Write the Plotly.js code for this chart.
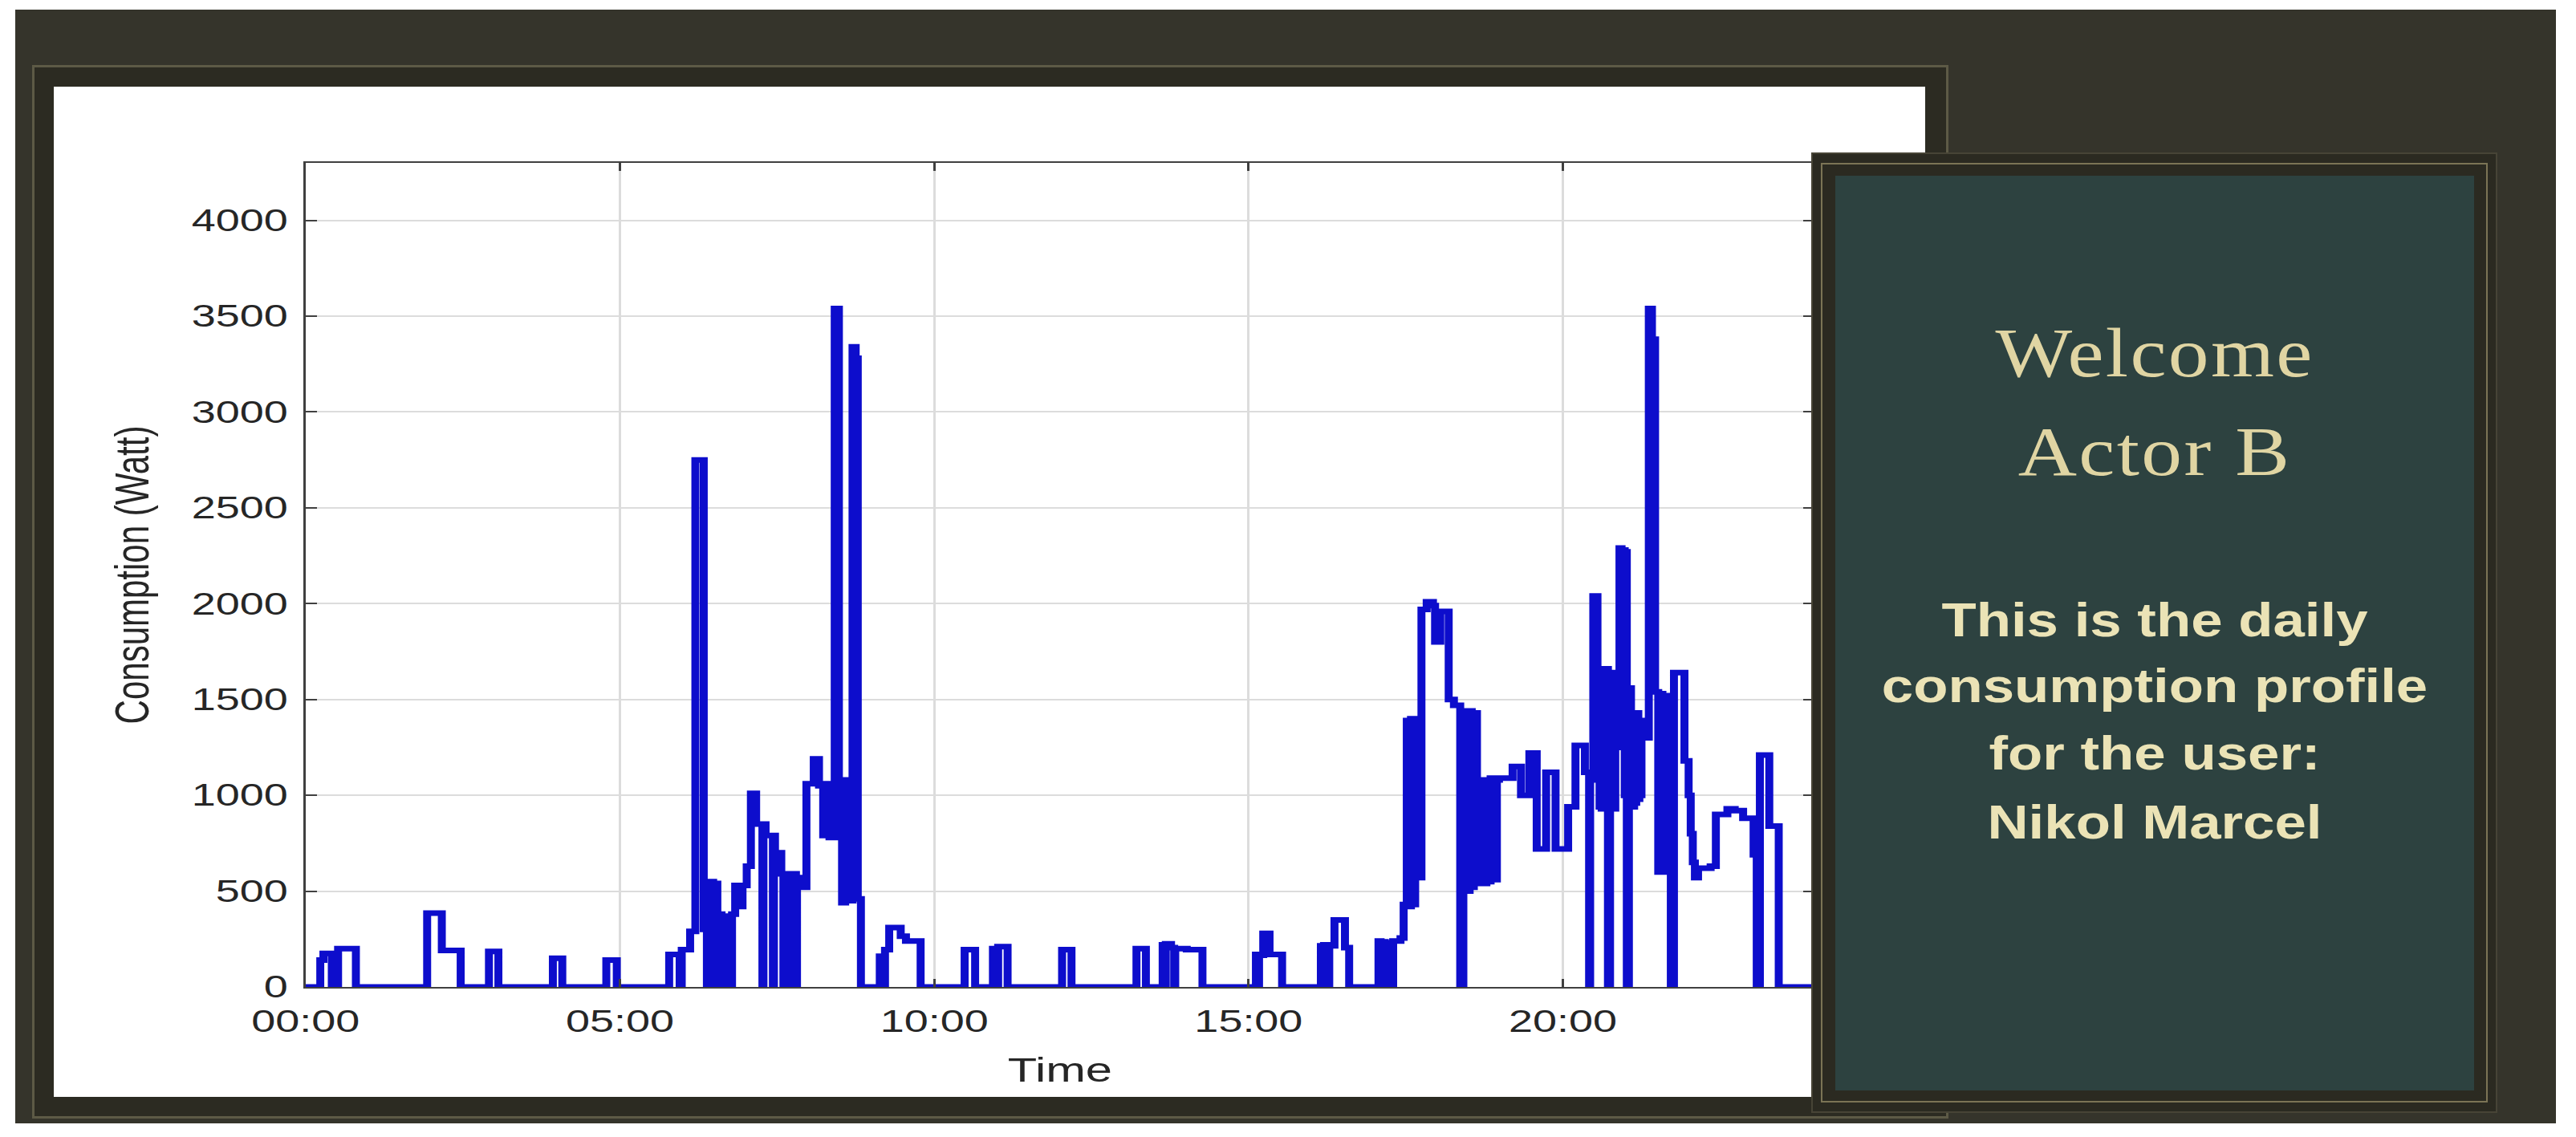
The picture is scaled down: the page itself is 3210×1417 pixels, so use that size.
<!DOCTYPE html>
<html><head><meta charset="utf-8">
<script src="https://cdn.plot.ly/plotly-3.0.1.min.js"></script>
<style>
html,body{margin:0;padding:0;background:#fff;}
body{width:3210px;height:1417px;position:relative;overflow:hidden;}
.abs{position:absolute;box-sizing:border-box;}
#outer{left:19px;top:12px;width:3166px;height:1388px;background:#35342b;}
#frame{left:40px;top:81px;width:2388px;height:1313px;background:#2c2b22;border:3px solid #5d5a46;}
#chartwrap{left:67px;top:108px;width:2332px;height:1259px;background:#fff;overflow:hidden;}
#chart{position:absolute;left:0;top:0;width:1642px;height:1259px;transform:scaleX(1.42);transform-origin:0 0;}
#panel{left:2257px;top:190px;width:855px;height:1197px;background:#2b2a21;border:2px solid #474436;}
#panelLine{left:2269px;top:203px;width:831px;height:1171px;border:2px solid #7b7455;}
#teal{left:2287px;top:219px;width:796px;height:1140px;background:#2d4240;}
.txt{position:absolute;left:2287px;width:796px;text-align:center;white-space:nowrap;transform:scaleX(1.18);transform-origin:50% 0;}
.serif{font-family:'Liberation Serif','Times New Roman',serif;font-size:86px;line-height:86px;color:#e0d5a3;letter-spacing:2px;}
.bold{font-family:'Liberation Sans',Arial,sans-serif;font-weight:bold;font-size:60px;line-height:60px;color:#ebe3b6;}
</style></head>
<body>
<div id="outer" class="abs"></div>
<div id="frame" class="abs"></div>
<div id="chartwrap" class="abs"><div id="chart"></div></div>
<div id="panel" class="abs"></div>
<div id="panelLine" class="abs"></div>
<div id="teal" class="abs"></div>
<div class="txt serif" style="top:397px;">Welcome</div>
<div class="txt serif" style="top:520px;">Actor B</div>
<div class="txt bold" style="top:743px;">This is the daily</div>
<div class="txt bold" style="top:825px;">consumption profile</div>
<div class="txt bold" style="top:909px;">for the user:</div>
<div class="txt bold" style="top:995px;">Nikol Marcel</div>
<script>
// Step-change times (HH:MM) and the consumption level (W) that starts at each time
const times = [
"00:00","00:14","00:17","00:25","00:31","00:48","01:56","02:10","02:28","02:55","03:04","03:56","04:05","04:47","04:57",
"05:47","05:57","05:59","06:07","06:12","06:20","06:23","06:25","06:29","06:30","06:33","06:34","06:35","06:37","06:38",
"06:40","06:41","06:43","06:44","06:46","06:47","06:50","06:54","06:57","07:01","07:05","07:10","07:16","07:17","07:19",
"07:26","07:27","07:28","07:34","07:36","07:37","07:39","07:40","07:42","07:43","07:45","07:46","07:48","07:49","07:52",
"07:58","08:05","08:10","08:14","08:17","08:20","08:25","08:29","08:32","08:35","08:37","08:42","08:45","08:47","08:50",
"09:08","09:12","09:13","09:17","09:28","09:33","09:47","10:29","10:39","10:56","10:59","11:01","11:10","12:02","12:11",
"13:13","13:22","13:38","13:40","13:41","13:46","13:49","13:50","14:01","14:16","15:07","15:09","15:10","15:14","15:20",
"15:32","16:09","16:11","16:12","16:16","16:17","16:22","16:32","16:36","17:04","17:06","17:07","17:10","17:12","17:13",
"17:17","17:18","17:25","17:28","17:31","17:34","17:35","17:38","17:39","17:42","17:45","17:50","17:56","17:58","18:03",
"18:11","18:16","18:22","18:25","18:29","18:31","18:33","18:35","18:38","18:42","18:43","18:46","18:47","18:50","18:51",
"18:56","18:57","18:59","19:12","19:20","19:28","19:35","19:44","19:53","20:05","20:12","20:21","20:25","20:26","20:29",
"20:33","20:34","20:35","20:36","20:37","20:38","20:39","20:43","20:45","20:47","20:48","20:49","20:50","20:51","20:54",
"20:56","20:57","20:59","21:00","21:01","21:03","21:05","21:06","21:07","21:08","21:09","21:10","21:12","21:13","21:14",
"21:15","21:17","21:22","21:25","21:28","21:31","21:32","21:33","21:34","21:35","21:36","21:37","21:38","21:41","21:43",
"21:46","21:56","22:00","22:02","22:04","22:06","22:09","22:21","22:26","22:37","22:44","22:52","23:02","23:05","23:08",
"23:17","23:26","24:00"];
const watts = [
0,140,175,0,200,0,385,190,0,185,0,150,0,140,0,
170,0,195,290,2750,300,0,550,0,540,290,0,380,0,370,
0,360,0,370,0,380,530,420,530,630,1010,850,0,850,790,
0,790,700,590,0,580,0,590,0,580,0,590,0,570,520,
1060,1190,1050,790,1060,780,3540,800,440,1080,450,3340,3280,460,0,
160,0,195,310,265,240,0,195,0,200,0,210,0,195,0,
200,0,220,0,225,205,0,200,195,0,170,0,165,280,170,
0,215,0,220,0,215,350,205,0,240,0,235,230,0,225,
0,240,255,430,1390,420,1400,430,1390,570,1970,2010,1990,1800,1960,
1500,1470,0,1440,500,1440,520,1430,1080,540,1070,540,1080,550,1090,
560,1080,1090,1150,1000,1220,720,1120,720,940,1260,1120,0,1080,2040,
1150,1390,940,1380,930,1400,1660,0,1640,950,1380,930,1400,1300,2290,
1250,2280,1000,2270,0,1560,950,1350,940,1380,960,1430,980,1380,1000,
1390,1300,3540,3380,1540,600,1520,620,1530,610,1200,600,1520,620,0,
1640,1180,1000,800,650,570,620,630,900,930,920,880,690,0,1210,
840,0,0];
const tickHours = [0,5,10,15,20];
const tickLabels = ["00:00","05:00","10:00","15:00","20:00"];
const yTicks = [0,500,1000,1500,2000,2500,3000,3500,4000];

const hours = times.map(t => { const p = t.split(":"); return parseInt(p[0],10) + parseInt(p[1],10)/60; });

const trace = {
  x: hours, y: watts, type: 'scatter', mode: 'lines',
  line: {color: '#0d0dcc', width: 7, shape: 'hv'},
  hoverinfo: 'skip'
};
const axisCommon = {
  ticks: 'inside', ticklen: 10, tickwidth: 2, tickcolor: '#404040',
  showline: true, linecolor: '#404040', linewidth: 2, mirror: 'ticks',
  showgrid: true, gridcolor: '#dcdcdc', gridwidth: 2, zeroline: false,
  tickfont: {size: 38, color: '#262626', family: 'Liberation Sans, Arial, sans-serif'},
  fixedrange: true
};
const layout = {
  width: 1642, height: 1259,
  margin: {l: 221, r: 97, t: 95, b: 137},
  paper_bgcolor: '#ffffff', plot_bgcolor: '#ffffff',
  showlegend: false,
  font: {family: 'Liberation Sans, Arial, sans-serif', color: '#262626'},
  xaxis: Object.assign({}, axisCommon, {
    range: [0, 24], tickmode: 'array', tickvals: tickHours, ticktext: tickLabels,
    ticklabelstandoff: 8,
    title: {text: 'Time', font: {size: 42, color: '#262626'}, standoff: 26}
  }),
  yaxis: Object.assign({}, axisCommon, {
    range: [0, 4300], tickmode: 'array', tickvals: yTicks,
    ticklabelstandoff: 6,
    title: {text: 'Consumption (Watt)', font: {size: 42, color: '#262626'}, standoff: 24}
  })
};
Plotly.newPlot('chart', [trace], layout, {staticPlot: true, displayModeBar: false});
</script>
</body></html>
